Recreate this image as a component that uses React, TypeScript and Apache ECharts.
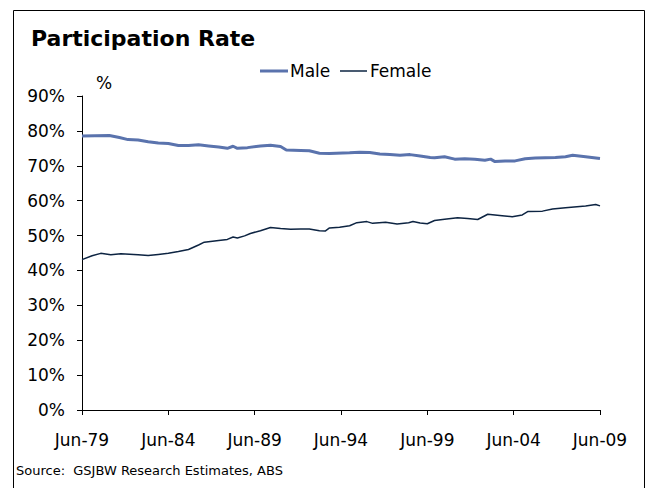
import React, { useEffect, useRef } from "react";
import * as echarts from "echarts";

const maleDates = [
  "1979-06", "1980-03", "1981-01", "1981-08", "1982-02", "1982-09", "1983-04", "1983-11",
  "1984-06", "1985-01", "1985-08", "1986-03", "1986-10", "1987-05", "1987-11", "1988-03",
  "1988-06", "1989-01", "1989-10", "1990-05", "1990-12", "1991-04", "1992-02", "1992-08",
  "1993-03", "1993-10", "1994-12", "1995-07", "1996-02", "1996-09", "1997-04", "1997-11",
  "1998-06", "1999-01", "1999-08", "1999-11", "2000-06", "2001-01", "2001-08", "2002-03",
  "2002-10", "2003-02", "2003-05", "2003-12", "2004-07", "2005-02", "2005-09", "2006-04",
  "2006-11", "2007-06", "2007-11", "2008-08", "2009-06",
];
const maleValues = [
  78.5, 78.6, 78.7, 78.1, 77.5, 77.4, 76.9, 76.5,
  76.4, 75.8, 75.8, 76.0, 75.7, 75.4, 75.0, 75.6,
  75.0, 75.2, 75.7, 75.9, 75.5, 74.5, 74.4, 74.3,
  73.6, 73.5, 73.7, 73.9, 73.8, 73.4, 73.2, 73.0,
  73.2, 72.8, 72.4, 72.3, 72.6, 71.9, 72.0, 71.9,
  71.6, 71.9, 71.2, 71.4, 71.4, 72.0, 72.2, 72.3,
  72.4, 72.6, 73.0, 72.6, 72.1,
];

const femaleDates = [
  "1979-06", "1980-01", "1980-07", "1981-02", "1981-09", "1982-09", "1983-04", "1983-11",
  "1984-06", "1985-01", "1985-08", "1986-03", "1986-07", "1987-05", "1987-11", "1988-03",
  "1988-06", "1988-11", "1989-03", "1989-10", "1990-05", "1990-12", "1991-07", "1992-02",
  "1992-08", "1993-03", "1993-07", "1993-10", "1994-05", "1994-12", "1995-05", "1995-12",
  "1996-04", "1997-01", "1997-09", "1998-05", "1998-08", "1999-01", "1999-06", "1999-11",
  "2000-06", "2001-03", "2001-10", "2002-05", "2002-12", "2003-10", "2004-05", "2004-12",
  "2005-04", "2006-02", "2006-09", "2007-06", "2008-08", "2009-03", "2009-06",
];
const femaleValues = [
  43.1, 44.2, 44.9, 44.5, 44.8, 44.5, 44.3, 44.6,
  44.9, 45.4, 46.0, 47.3, 48.1, 48.6, 48.9, 49.6,
  49.3, 49.9, 50.6, 51.4, 52.3, 52.0, 51.8, 51.9,
  51.9, 51.4, 51.3, 52.2, 52.4, 52.8, 53.7, 54.0,
  53.5, 53.8, 53.3, 53.7, 54.0, 53.6, 53.4, 54.3,
  54.7, 55.1, 54.9, 54.6, 56.1, 55.7, 55.4, 55.9,
  56.9, 57.0, 57.6, 58.0, 58.5, 58.9, 58.5,
];

const xTickLabels = ["Jun-79", "Jun-84", "Jun-89", "Jun-94", "Jun-99", "Jun-04", "Jun-09"];
const seriesNames = ["Male", "Female"];
const titleText = "Participation Rate";
const sourceText = "Source:  GSJBW Research Estimates, ABS";

const FONT = "DejaVu Sans";
const MALE_COLOR = "#5a73ad";
const FEMALE_COLOR = "#0d2442";

function monthIndex(s: string): number {
  const [y, m] = s.split("-").map(Number);
  return (y - 1979) * 12 + (m - 6);
}

function pairs(dates: string[], values: number[]) {
  return dates.map((d, i) => [monthIndex(d), values[i]]);
}

export default function App() {
  const ref = useRef<HTMLDivElement>(null);
  useEffect(() => {
    if (!ref.current) return;
    const chart = echarts.init(ref.current, undefined, { renderer: "svg" });
    chart.setOption({
      animation: false,
      backgroundColor: "#ffffff",
      title: {
        text: titleText,
        left: 26,
        top: 22,
        textStyle: { fontFamily: FONT, fontSize: 22, fontWeight: "bold", color: "#000" },
      },
      grid: { left: 82, right: 46, top: 96, bottom: 78, containLabel: false },
      xAxis: {
        type: "value",
        min: 0,
        max: 360,
        interval: 60,
        axisLine: { show: true, lineStyle: { color: "#000", width: 1 } },
        axisTick: { show: true, length: 5, lineStyle: { color: "#000" } },
        splitLine: { show: false },
        axisLabel: {
          margin: 21,
          fontFamily: FONT,
          fontSize: 17,
          color: "#000",
          formatter: (v: number) => xTickLabels[Math.round(v / 60)] ?? "",
        },
      },
      yAxis: {
        type: "value",
        min: 0,
        max: 90,
        interval: 10,
        axisLine: { show: true, lineStyle: { color: "#000", width: 1 } },
        axisTick: { show: true, length: 5, lineStyle: { color: "#000" } },
        splitLine: { show: false },
        axisLabel: {
          margin: 17,
          fontFamily: FONT,
          fontSize: 17,
          color: "#000",
          formatter: "{value}%",
        },
      },
      graphic: [
        {
          type: "rect",
          shape: { x: 13.5, y: 10.5, width: 631, height: 500 },
          style: { fill: "none", stroke: "#000", lineWidth: 1 },
          z: 100,
        },
        {
          type: "text",
          x: 96,
          y: 74,
          style: { text: "%", fontFamily: FONT, fontSize: 17, fill: "#000" },
        },
        {
          type: "line",
          shape: { x1: 260, y1: 71, x2: 288, y2: 71 },
          style: { stroke: MALE_COLOR, lineWidth: 3 },
        },
        {
          type: "text",
          x: 290,
          y: 71,
          style: {
            text: seriesNames[0],
            fontFamily: FONT,
            fontSize: 17,
            fill: "#000",
            verticalAlign: "middle",
          },
        },
        {
          type: "line",
          shape: { x1: 340, y1: 71, x2: 367, y2: 71 },
          style: { stroke: FEMALE_COLOR, lineWidth: 1.5 },
        },
        {
          type: "text",
          x: 370,
          y: 71,
          style: {
            text: seriesNames[1],
            fontFamily: FONT,
            fontSize: 17,
            fill: "#000",
            verticalAlign: "middle",
          },
        },
        {
          type: "text",
          x: 16,
          y: 464,
          style: { text: sourceText, fontFamily: FONT, fontSize: 13, fill: "#000" },
        },
      ],
      series: [
        {
          name: seriesNames[0],
          type: "line",
          data: pairs(maleDates, maleValues),
          symbol: "none",
          lineStyle: { color: MALE_COLOR, width: 3 },
          itemStyle: { color: MALE_COLOR },
        },
        {
          name: seriesNames[1],
          type: "line",
          data: pairs(femaleDates, femaleValues),
          symbol: "none",
          lineStyle: { color: FEMALE_COLOR, width: 1.5 },
          itemStyle: { color: FEMALE_COLOR },
        },
      ],
    });
    return () => chart.dispose();
  }, []);
  return (
    <div
      ref={ref}
      style={{ position: "fixed", left: 0, top: 0, width: 646, height: 488, background: "#fff" }}
    />
  );
}
